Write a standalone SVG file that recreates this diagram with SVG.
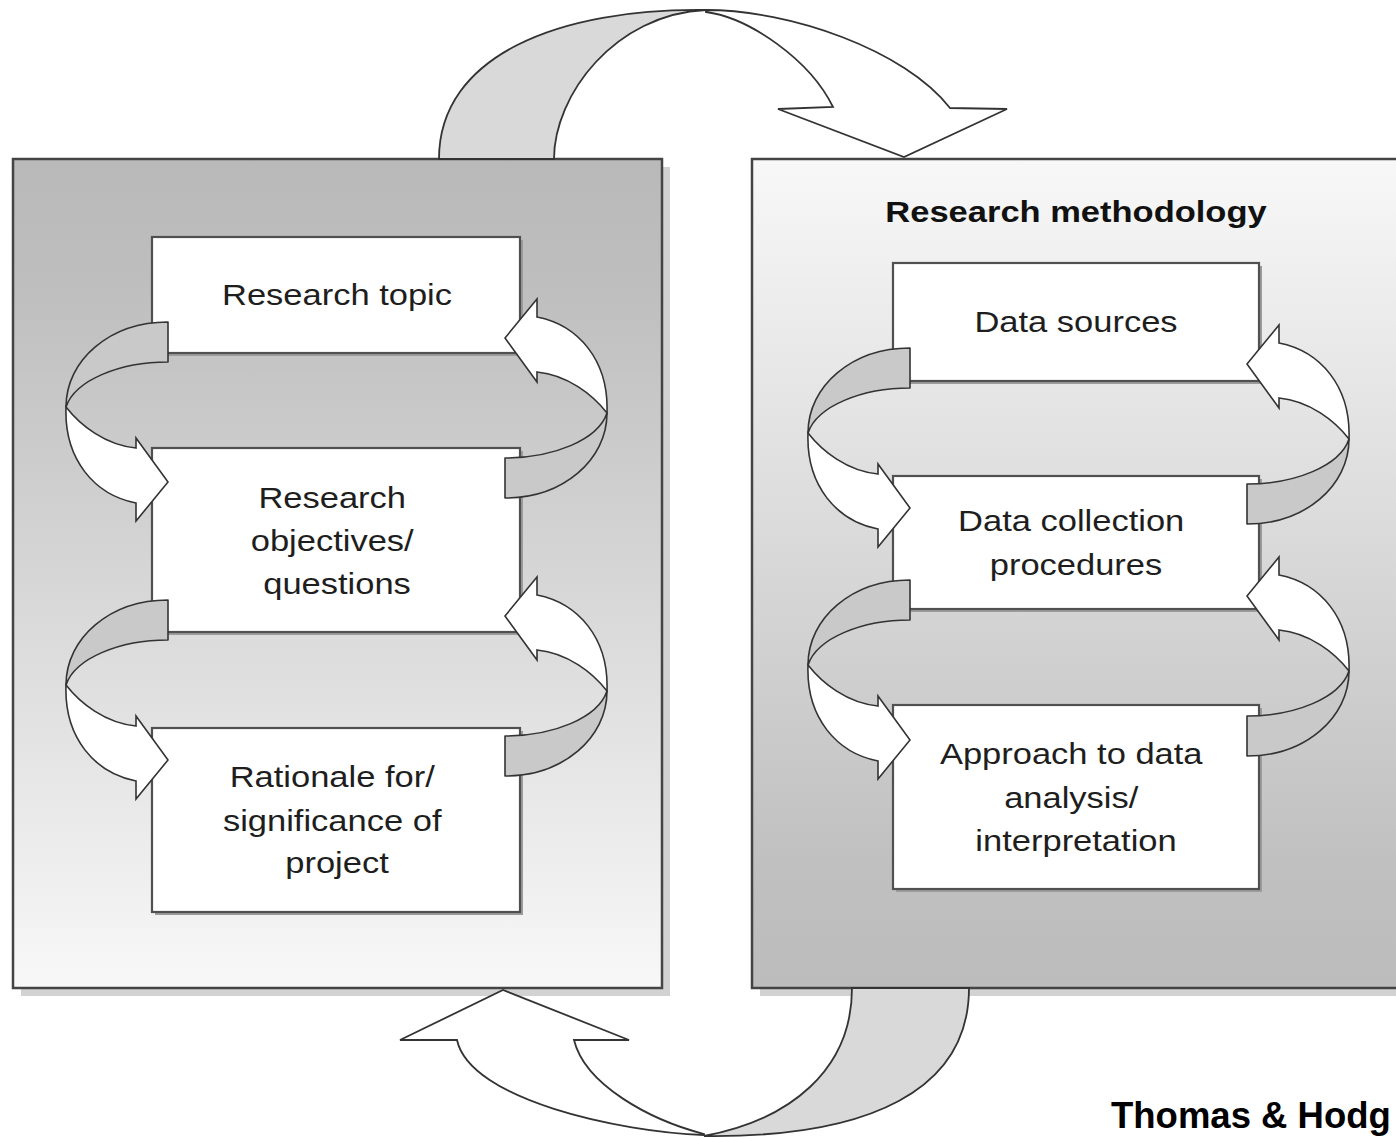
<svg xmlns="http://www.w3.org/2000/svg" xmlns:xlink="http://www.w3.org/1999/xlink" width="1396" height="1137" viewBox="0 0 1396 1137">
  <style>
    .panel { stroke: #444; stroke-width: 2.5; }
    .shadow { fill: #d2d2d2; }
    .box { fill: #ffffff; stroke: #505050; stroke-width: 2.2; }
    .box-shadow { fill: #9c9c9c; }
    .band-gray { fill: #c9c9c9; stroke: #333; stroke-width: 1.6; stroke-linejoin: round; }
    .band-white { fill: #ffffff; stroke: #333; stroke-width: 1.6; stroke-linejoin: miter; }
    .big-gray { fill: #d9d9d9; stroke: #333; stroke-width: 1.8; }
    .big-white { fill: #ffffff; stroke: #333; stroke-width: 1.8; stroke-linejoin: miter; }
    .label { font-family: "Liberation Sans", Arial, sans-serif; font-size: 30px; fill: #1e1e1e; text-anchor: middle; }
    .title { font-family: "Liberation Sans", Arial, sans-serif; font-size: 30px; font-weight: bold; fill: #111; text-anchor: middle; }
    .credit { font-family: "Liberation Sans", Arial, sans-serif; font-size: 36.5px; font-weight: bold; fill: #000; }
  </style>
  <defs>
    <linearGradient id="grad-left" x1="0" y1="0" x2="0" y2="1">
      <stop offset="0" stop-color="#b9b9b9"/>
      <stop offset="0.15" stop-color="#bebebe"/>
      <stop offset="1" stop-color="#f8f8f8"/>
    </linearGradient>
    <linearGradient id="grad-right" x1="0" y1="0" x2="0" y2="1">
      <stop offset="0" stop-color="#f8f8f8"/>
      <stop offset="0.85" stop-color="#c0c0c0"/>
      <stop offset="1" stop-color="#bcbcbc"/>
    </linearGradient>
    <!-- twisted ribbon arrow: grey tab leaves the upper box, white head enters the lower box -->
    <g id="loop-down">
      <path class="band-gray" d="M168,322 L168,362 C120,362 75,380 66,407 C66,360 110,322 168,322 Z"/>
      <path class="band-white" d="M66,407 C80,425 105,445 136,448 L136,438 L168,482 L136,521 L136,503 C95,495 64,460 66,407 Z"/>
    </g>
    <!-- pair of ribbons: down on the left, back up on the right -->
    <g id="loop-pair">
      <use href="#loop-down"/>
      <use href="#loop-down" transform="rotate(180 336.5 410)"/>
    </g>
  </defs>

  <rect width="1396" height="1137" fill="#ffffff"/>

  <!-- left panel -->
  <g id="panel-left">
    <rect class="shadow" x="21" y="167" width="649" height="829"/>
    <rect class="panel" x="13" y="159" width="649" height="829" fill="url(#grad-left)"/>
  </g>

  <!-- right panel -->
  <g id="panel-right">
    <rect class="shadow" x="760" y="167" width="660" height="829"/>
    <rect class="panel" x="752" y="159" width="660" height="829" fill="url(#grad-right)"/>
    <text class="title" transform="translate(1076,222) scale(1.15,1)" x="0" y="0">Research methodology</text>
  </g>

  <!-- left column boxes -->
  <g id="node-research-topic">
    <rect class="box-shadow" x="155" y="240" width="368" height="116"/>
    <rect class="box" x="152" y="237" width="368" height="116"/>
    <text class="label" transform="translate(337,0) scale(1.15,1)" x="0" y="305">Research topic</text>
  </g>
  <g id="node-objectives">
    <rect class="box-shadow" x="155" y="451" width="368" height="184"/>
    <rect class="box" x="152" y="448" width="368" height="184"/>
    <text class="label" transform="translate(337,0) scale(1.15,1)">
      <tspan x="0" y="508">Research</tspan>
      <tspan x="0" y="551">objectives/</tspan>
      <tspan x="0" y="594">questions</tspan>
    </text>
  </g>
  <g id="node-rationale">
    <rect class="box-shadow" x="155" y="731" width="368" height="184"/>
    <rect class="box" x="152" y="728" width="368" height="184"/>
    <text class="label" transform="translate(337,0) scale(1.15,1)">
      <tspan x="0" y="787">Rationale for/</tspan>
      <tspan x="0" y="831">significance of</tspan>
      <tspan x="0" y="873">project</tspan>
    </text>
  </g>

  <!-- right column boxes -->
  <g id="node-data-sources">
    <rect class="box-shadow" x="896" y="266" width="366" height="118"/>
    <rect class="box" x="893" y="263" width="366" height="118"/>
    <text class="label" transform="translate(1076,0) scale(1.15,1)" x="0" y="332">Data sources</text>
  </g>
  <g id="node-data-collection">
    <rect class="box-shadow" x="896" y="479" width="366" height="133"/>
    <rect class="box" x="893" y="476" width="366" height="133"/>
    <text class="label" transform="translate(1076,0) scale(1.15,1)">
      <tspan x="0" y="531">Data collection</tspan>
      <tspan x="0" y="575">procedures</tspan>
    </text>
  </g>
  <g id="node-analysis">
    <rect class="box-shadow" x="896" y="708" width="366" height="184"/>
    <rect class="box" x="893" y="705" width="366" height="184"/>
    <text class="label" transform="translate(1076,0) scale(1.15,1)">
      <tspan x="0" y="764">Approach to data</tspan>
      <tspan x="0" y="808">analysis/</tspan>
      <tspan x="0" y="851">interpretation</tspan>
    </text>
  </g>

  <!-- connectors -->
  <g id="connectors">
    <!-- ribbon loops between stacked boxes -->
    <use href="#loop-pair"/>
    <use href="#loop-pair" transform="translate(0,278)"/>
    <use href="#loop-pair" transform="translate(742,26)"/>
    <use href="#loop-pair" transform="translate(742,258)"/>

    <!-- large arrow over the top: left panel to right panel -->
    <path class="big-gray" d="M439,159 C439,55 560,8 706,10 C615,14 554,95 554,159 Z"/>
    <path class="big-white" d="M706,10 C790,10 905,50 950,108 L1007,109 L904,157 L778,109 L833,107 C810,60 750,18 706,12 Z"/>

    <!-- large arrow underneath: right panel back to left panel -->
    <path class="big-gray" d="M852,988 L969,988 C969,1090 870,1138 704,1136 C790,1120 852,1070 852,988 Z"/>
    <path class="big-white" d="M704,1135 C620,1132 470,1100 457,1040 L400,1040 L503,990 L629,1040 L574,1040 C585,1085 650,1120 704,1134 Z"/>
  </g>

  <text class="credit" x="1111" y="1128">Thomas &amp; Hodg</text>
</svg>
